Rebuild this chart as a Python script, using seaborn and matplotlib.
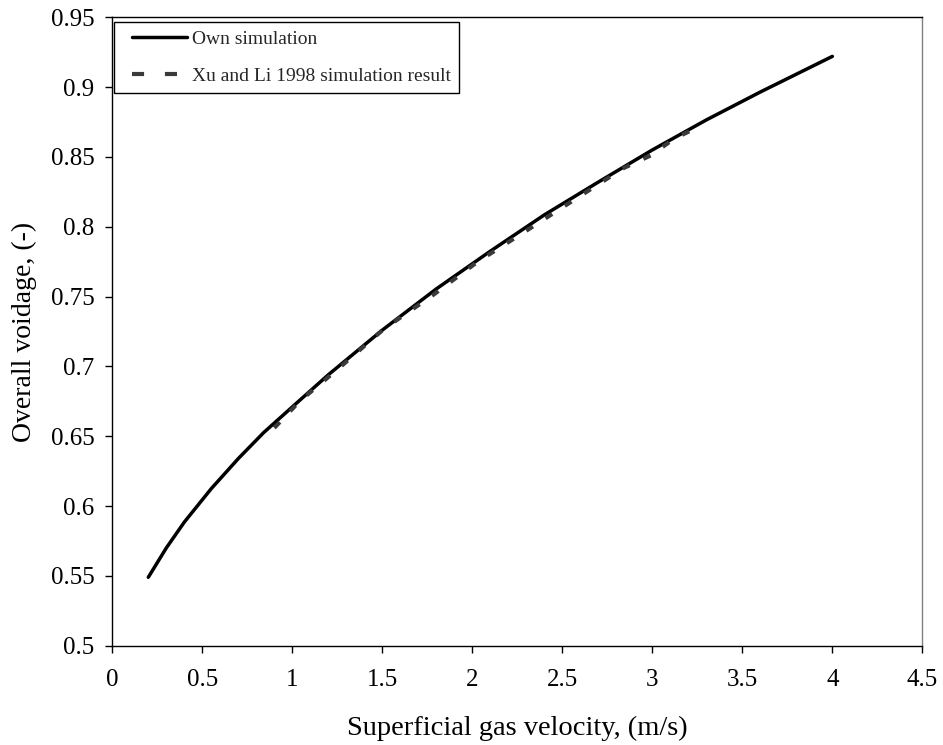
import numpy as np
import pandas as pd
import matplotlib
matplotlib.use("Agg")
import matplotlib.pyplot as plt
import seaborn as sns
from matplotlib.lines import Line2D
from matplotlib.legend_handler import HandlerLine2D

# ---- data ----
own_x = [0.2, 0.25, 0.3, 0.4, 0.55, 0.7, 0.84, 1.0, 1.2, 1.5, 1.8, 2.1, 2.4, 2.7, 3.0, 3.3, 3.6, 4.0]
own_y = [0.549, 0.5595, 0.570, 0.5885, 0.6125, 0.634, 0.6525, 0.671, 0.694, 0.726, 0.7555, 0.7825, 0.8085, 0.832, 0.855, 0.8765, 0.8965, 0.922]
xu_x = [0.9, 1.04, 1.27, 1.51, 1.77, 2.03, 2.31, 2.58, 2.84, 2.99, 3.12, 3.28]
xu_y = [0.656, 0.675, 0.700, 0.727, 0.750, 0.775, 0.798, 0.8205, 0.842, 0.851, 0.863, 0.873]

own_label = "Own simulation"
xu_label = "Xu and Li 1998 simulation result"
x_ticks = [0, 0.5, 1, 1.5, 2, 2.5, 3, 3.5, 4, 4.5]
x_ticklabels = ["0", "0.5", "1", "1.5", "2", "2.5", "3", "3.5", "4", "4.5"]
y_ticks = [0.5, 0.55, 0.6, 0.65, 0.7, 0.75, 0.8, 0.85, 0.9, 0.95]
y_ticklabels = ["0.5", "0.55", "0.6", "0.65", "0.7", "0.75", "0.8", "0.85", "0.9", "0.95"]
x_title = "Superficial gas velocity, (m/s)"
y_title = "Overall voidage, (-)"

sns.set_theme(style="white")
plt.rcParams["font.family"] = ["Liberation Serif", "DejaVu Serif"]

own_df = pd.DataFrame({"x": own_x, "y": own_y})
xu_df = pd.DataFrame({"x": xu_x, "y": xu_y})

fig = plt.figure(figsize=(9.43, 7.45), dpi=100)
ax = fig.add_axes([0.1191, 0.1333, 0.859, 0.8435])

sns.lineplot(data=own_df, x="x", y="y", ax=ax, color="black", linewidth=2.5,
             estimator=None, sort=False)
sns.lineplot(data=xu_df, x="x", y="y", ax=ax, color="#3a3a3a", linewidth=3.0,
             estimator=None, sort=False, linestyle=(0, (1.9, 3.6)))

ax.set_xlim(0, 4.5)
ax.set_ylim(0.5, 0.95)
ax.set_xticks(x_ticks)
ax.set_xticklabels(x_ticklabels)
ax.set_yticks(y_ticks)
ax.set_yticklabels(y_ticklabels)
ax.tick_params(axis="both", which="major", direction="out", length=5, width=1,
               color="black", labelsize=18, labelcolor="black", pad=12,
               left=True, bottom=True, top=False, right=False)
ax.tick_params(axis="y", pad=8)

ax.set_xlabel(x_title, fontsize=20.5, color="black", labelpad=18)
ax.set_ylabel(y_title, fontsize=20, color="black", labelpad=10)

for side in ["left", "bottom", "top"]:
    ax.spines[side].set_color("black")
    ax.spines[side].set_linewidth(1.0)
ax.spines["right"].set_color("#808080")
ax.spines["right"].set_linewidth(1.0)
ax.grid(False)

handles = [
    Line2D([0], [0], color="black", linewidth=2.5),
    Line2D([0], [0], color="#3a3a3a", linewidth=3.0, linestyle=(0, (2.9, 5.0))),
]
hmap = {h: HandlerLine2D(marker_pad=0.47, numpoints=2) for h in handles}
leg = ax.legend(handles, [own_label, xu_label], loc="upper left",
                bbox_to_anchor=(0.002, 0.9925), borderaxespad=0,
                fontsize=14, frameon=True, fancybox=False, shadow=False,
                handlelength=3.77, handletextpad=-0.21, labelspacing=0.97,
                borderpad=0.44, handler_map=hmap)
frame = leg.get_frame()
frame.set_edgecolor("black")
frame.set_linewidth(1.0)
frame.set_facecolor("white")
frame.set_alpha(1.0)

fig.savefig("out.png", dpi=100)
